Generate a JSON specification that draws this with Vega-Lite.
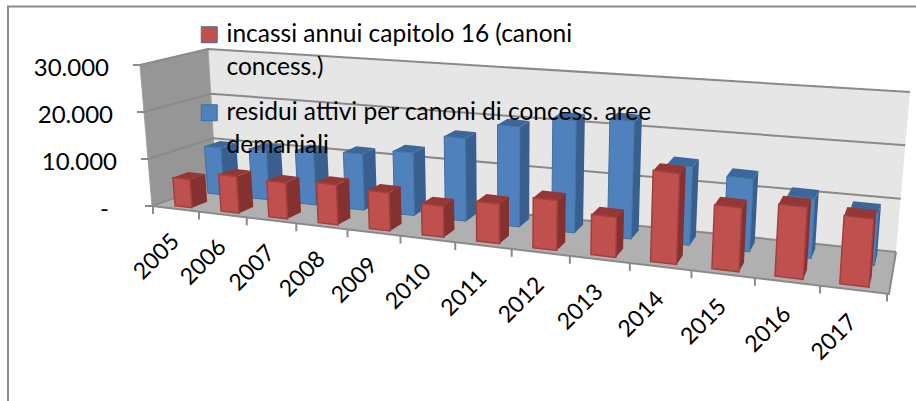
{
"$schema":"https://vega.github.io/schema/vega-lite/v6.json",
"width":916,"height":401,"padding":0,"autosize":{"type":"none"},
"background":"white",
"view":{"stroke":null},
"config":{"style":{"guide-label":{"lineHeight":33}}},
"datasets":{
"bars":[
{"year":2005,"series":"incassi annui capitolo 16 (canoni concess.)","value":6000},
{"year":2006,"series":"incassi annui capitolo 16 (canoni concess.)","value":7700},
{"year":2007,"series":"incassi annui capitolo 16 (canoni concess.)","value":7400},
{"year":2008,"series":"incassi annui capitolo 16 (canoni concess.)","value":8100},
{"year":2009,"series":"incassi annui capitolo 16 (canoni concess.)","value":7600},
{"year":2010,"series":"incassi annui capitolo 16 (canoni concess.)","value":6100},
{"year":2011,"series":"incassi annui capitolo 16 (canoni concess.)","value":7700},
{"year":2012,"series":"incassi annui capitolo 16 (canoni concess.)","value":9500},
{"year":2013,"series":"incassi annui capitolo 16 (canoni concess.)","value":7500},
{"year":2014,"series":"incassi annui capitolo 16 (canoni concess.)","value":16800},
{"year":2015,"series":"incassi annui capitolo 16 (canoni concess.)","value":11600},
{"year":2016,"series":"incassi annui capitolo 16 (canoni concess.)","value":12900},
{"year":2017,"series":"incassi annui capitolo 16 (canoni concess.)","value":12000},
{"year":2005,"series":"residui attivi per canoni di concess. aree demaniali","value":10300},
{"year":2006,"series":"residui attivi per canoni di concess. aree demaniali","value":10700},
{"year":2007,"series":"residui attivi per canoni di concess. aree demaniali","value":11200},
{"year":2008,"series":"residui attivi per canoni di concess. aree demaniali","value":11700},
{"year":2009,"series":"residui attivi per canoni di concess. aree demaniali","value":12900},
{"year":2010,"series":"residui attivi per canoni di concess. aree demaniali","value":16800},
{"year":2011,"series":"residui attivi per canoni di concess. aree demaniali","value":20000},
{"year":2012,"series":"residui attivi per canoni di concess. aree demaniali","value":22200},
{"year":2013,"series":"residui attivi per canoni di concess. aree demaniali","value":22900},
{"year":2014,"series":"residui attivi per canoni di concess. aree demaniali","value":15100},
{"year":2015,"series":"residui attivi per canoni di concess. aree demaniali","value":13800},
{"year":2016,"series":"residui attivi per canoni di concess. aree demaniali","value":11200},
{"year":2017,"series":"residui attivi per canoni di concess. aree demaniali","value":9600}
],
"walls":[{"part":"frame"}],
"grid":[{"tick":0,"label":"-"},{"tick":10,"label":"10.000"},{"tick":20,"label":"20.000"},{"tick":30,"label":"30.000"}],
"years":[{"i":0,"label":"2005"},{"i":1,"label":"2006"},{"i":2,"label":"2007"},{"i":3,"label":"2008"},{"i":4,"label":"2009"},{"i":5,"label":"2010"},{"i":6,"label":"2011"},{"i":7,"label":"2012"},{"i":8,"label":"2013"},{"i":9,"label":"2014"},{"i":10,"label":"2015"},{"i":11,"label":"2016"},{"i":12,"label":"2017"},{"i":13,"label":""}]
},
"layer":[
{"data":{"name":"walls"},
 "transform":[{"calculate":"{type:'Polygon',coordinates:[[[208,49],[910,92],[896,252],[216,183],[208,49]]]}","as":"g"}],
 "mark":{"type":"geoshape","fill":"#e6e6e6","stroke":null},
 "projection":{"type":"identity","scale":1,"translate":[0,0]},
 "encoding":{"shape":{"field":"g","type":"geojson"}}},
{"data":{"name":"walls"},
 "transform":[{"calculate":"{type:'Polygon',coordinates:[[[140,65],[208,49],[216,183],[152,206],[140,65]]]}","as":"g"}],
 "mark":{"type":"geoshape","fill":"#969696","stroke":"#a0a0a0","strokeWidth":1},
 "projection":{"type":"identity","scale":1,"translate":[0,0]},
 "encoding":{"shape":{"field":"g","type":"geojson"}}},
{"data":{"name":"walls"},
 "transform":[{"calculate":"{type:'Polygon',coordinates:[[[152,206],[216,183],[896,252],[889,294],[152,206]]]}","as":"g"}],
 "mark":{"type":"geoshape","fill":"#b0b0b0","stroke":null},
 "projection":{"type":"identity","scale":1,"translate":[0,0]},
 "encoding":{"shape":{"field":"g","type":"geojson"}}},
{"data":{"name":"walls"},
 "transform":[{"calculate":"{type:'LineString',coordinates:[[8,401],[8,6.5],[916,6.5]]}","as":"g"}],
 "mark":{"type":"geoshape","filled":false,"stroke":"#8c8c8c","strokeWidth":2},
 "projection":{"type":"identity","scale":1,"translate":[0,0]},
 "encoding":{"shape":{"field":"g","type":"geojson"}}},
{"data":{"name":"walls"},
 "transform":[{"calculate":"{type:'LineString',coordinates:[[152,206],[889,294],[896,252]]}","as":"g"}],
 "mark":{"type":"geoshape","filled":false,"stroke":"#8a8a8a","strokeWidth":2},
 "projection":{"type":"identity","scale":1,"translate":[0,0]},
 "encoding":{"shape":{"field":"g","type":"geojson"}}},
{"data":{"name":"grid"},
 "transform":[
  {"calculate":"216-datum.tick*8/30","as":"lx"},{"calculate":"183-datum.tick*134/30","as":"ly"},
  {"calculate":"896+datum.tick*14/30","as":"rx"},{"calculate":"252-datum.tick*160/30","as":"ry"},
  {"calculate":"152-datum.tick*12/30","as":"fx"},{"calculate":"206-datum.tick*141/30","as":"fy"},
  {"calculate":"{type:'LineString',coordinates:[[datum.fx-7,datum.fy],[datum.fx,datum.fy],[datum.lx,datum.ly],[datum.rx,datum.ry]]}","as":"g"}],
 "mark":{"type":"geoshape","filled":false,"stroke":"#8a8a8a","strokeWidth":2},
 "projection":{"type":"identity","scale":1,"translate":[0,0]},
 "encoding":{"shape":{"field":"g","type":"geojson"}}},
{"data":{"name":"years"},
 "transform":[
  {"calculate":"153+45.15*datum.i+0.87*datum.i*datum.i","as":"tx"},
  {"calculate":"206+0.119*(datum.tx-152)","as":"ty"},
  {"calculate":"{type:'LineString',coordinates:[[datum.tx,datum.ty],[datum.tx,datum.ty+8]]}","as":"g"}],
 "mark":{"type":"geoshape","filled":false,"stroke":"#8a8a8a","strokeWidth":2},
 "projection":{"type":"identity","scale":1,"translate":[0,0]},
 "encoding":{"shape":{"field":"g","type":"geojson"}}},
{"data":{"name":"bars"},
 "transform":[
  {"calculate":"datum.year-2005","as":"i"},
  {"calculate":"indexof(datum.series,'residui')===0?0.63:0.1","as":"d0"},
  {"calculate":"datum.d0+0.25","as":"d1"},
  {"calculate":"datum.value/1000","as":"v"},
  {"calculate":"datum.i+0.35-0.006*datum.i","as":"ua"},
  {"calculate":"datum.i+0.72","as":"ub"},
  {"calculate":"153+45.15*datum.ua+0.87*datum.ua*datum.ua","as":"Fa"},
  {"calculate":"153+45.15*datum.ub+0.87*datum.ub*datum.ub","as":"Fb"},
  {"calculate":"216+41.9*datum.ua+0.8*datum.ua*datum.ua","as":"Ba"},
  {"calculate":"216+41.9*datum.ub+0.8*datum.ub*datum.ub","as":"Bb"},
  {"calculate":"206+0.119*(datum.Fa-152)","as":"yFa"},
  {"calculate":"206+0.119*(datum.Fb-152)","as":"yFb"},
  {"calculate":"183+0.1015*(datum.Ba-216)","as":"yBa"},
  {"calculate":"183+0.1015*(datum.Bb-216)","as":"yBb"},
  {"calculate":"datum.Fa+(datum.Ba-datum.Fa)*datum.d0","as":"ax0"},
  {"calculate":"datum.Fa+(datum.Ba-datum.Fa)*datum.d1","as":"ax1"},
  {"calculate":"datum.Fb+(datum.Bb-datum.Fb)*datum.d0","as":"bx0"},
  {"calculate":"datum.Fb+(datum.Bb-datum.Fb)*datum.d1","as":"bx1"},
  {"calculate":"datum.yFa+(datum.yBa-datum.yFa)*datum.d0","as":"ay0"},
  {"calculate":"datum.yFa+(datum.yBa-datum.yFa)*datum.d1","as":"ay1"},
  {"calculate":"datum.yFb+(datum.yBb-datum.yFb)*datum.d0","as":"by0"},
  {"calculate":"datum.yFb+(datum.yBb-datum.yFb)*datum.d1","as":"by1"},
  {"calculate":"((4.7+1.1*datum.i/13)*(1-datum.d0)+(4.47+0.86*datum.i/13)*datum.d0)*datum.v","as":"h0"},
  {"calculate":"((4.7+1.1*datum.i/13)*(1-datum.d1)+(4.47+0.86*datum.i/13)*datum.d1)*datum.v","as":"h1"},
  {"calculate":"datum.ax0+(datum.ax0-510)*0.0011*datum.v","as":"tax0"},
  {"calculate":"datum.ax1+(datum.ax1-510)*0.0011*datum.v","as":"tax1"},
  {"calculate":"datum.bx0+(datum.bx0-510)*0.0011*datum.v","as":"tbx0"},
  {"calculate":"datum.bx1+(datum.bx1-510)*0.0011*datum.v","as":"tbx1"},
  {"calculate":"{type:'Polygon',coordinates:[[[datum.ax0,datum.ay0],[datum.bx0,datum.by0],[datum.tbx0,datum.by0-datum.h0],[datum.tax0,datum.ay0-datum.h0],[datum.ax0,datum.ay0]]]}","as":"front"},
  {"calculate":"{type:'Polygon',coordinates:[[[datum.bx0,datum.by0],[datum.bx1,datum.by1],[datum.tbx1,datum.by1-datum.h1],[datum.tbx0,datum.by0-datum.h0],[datum.bx0,datum.by0]]]}","as":"side"},
  {"calculate":"{type:'Polygon',coordinates:[[[datum.tax0,datum.ay0-datum.h0],[datum.tbx0,datum.by0-datum.h0],[datum.tbx1,datum.by1-datum.h1],[datum.tax1,datum.ay1-datum.h1],[datum.tax0,datum.ay0-datum.h0]]]}","as":"topface"}
 ],
 "layer":[
  {"transform":[{"filter":"datum.d0>0.5"}],"mark":{"type":"geoshape","fill":"#385f8e","stroke":null},
   "projection":{"type":"identity","scale":1,"translate":[0,0]},
   "encoding":{"shape":{"field":"side","type":"geojson"}}},
  {"transform":[{"filter":"datum.d0>0.5"}],"mark":{"type":"geoshape","fill":"#3b679b","stroke":null},
   "projection":{"type":"identity","scale":1,"translate":[0,0]},
   "encoding":{"shape":{"field":"topface","type":"geojson"}}},
  {"transform":[{"filter":"datum.d0>0.5"}],"mark":{"type":"geoshape","stroke":"#41719c","strokeWidth":1},
   "projection":{"type":"identity","scale":1,"translate":[0,0]},
   "encoding":{"shape":{"field":"front","type":"geojson"},
    "color":{"field":"series","type":"nominal","scale":{"domain":["incassi annui capitolo 16 (canoni concess.)","residui attivi per canoni di concess. aree demaniali"],"range":["#c0504d","#4f81bd"]},
     "legend":{"orient":"none","legendX":197,"legendY":22.5,"title":null,"symbolType":"square","symbolSize":256,"symbolStrokeWidth":1,"labelFont":"Lato","labelFontSize":24.5,"labelColor":"black","labelLimit":500,"labelOffset":5,"rowPadding":20,
      "labelExpr":"indexof(datum.label,'incassi')===0?['incassi annui capitolo 16 (canoni','concess.)']:['residui attivi per canoni di concess. aree','demaniali']"}}}},
  {"transform":[{"filter":"datum.d0<0.5"}],"mark":{"type":"geoshape","fill":"#843230","stroke":null},
   "projection":{"type":"identity","scale":1,"translate":[0,0]},
   "encoding":{"shape":{"field":"side","type":"geojson"}}},
  {"transform":[{"filter":"datum.d0<0.5"}],"mark":{"type":"geoshape","fill":"#953735","stroke":null},
   "projection":{"type":"identity","scale":1,"translate":[0,0]},
   "encoding":{"shape":{"field":"topface","type":"geojson"}}},
  {"transform":[{"filter":"datum.d0<0.5"}],"mark":{"type":"geoshape","stroke":"#a23f3d","strokeWidth":1.5},
   "projection":{"type":"identity","scale":1,"translate":[0,0]},
   "encoding":{"shape":{"field":"front","type":"geojson"},
    "color":{"field":"series","type":"nominal"}}}
 ]},
{"data":{"name":"grid"},
 "transform":[
  {"calculate":"125-datum.tick*0.4-(datum.tick===0?16:4)","as":"lx"},
  {"calculate":"210-datum.tick*4.7","as":"ly"}],
 "mark":{"type":"text","font":"Lato","fontSize":24,"align":"right","baseline":"middle","color":"black"},
 "encoding":{
  "x":{"field":"lx","type":"quantitative","scale":{"domain":[0,916],"range":[0,916]},"axis":null},
  "y":{"field":"ly","type":"quantitative","scale":{"domain":[0,401],"range":[0,401]},"axis":null},
  "text":{"field":"label"}}},
{"data":{"name":"years"},
 "transform":[{"filter":"datum.i<13"},
  {"calculate":"datum.i+0.5","as":"m"},
  {"calculate":"153+45.15*datum.m+0.87*datum.m*datum.m","as":"mx"},
  {"calculate":"datum.mx-19","as":"lx"},
  {"calculate":"206+0.119*(datum.mx-152)+48","as":"ly"}],
 "mark":{"type":"text","font":"Lato","fontSize":23,"angle":-45,"align":"center","baseline":"middle","color":"black"},
 "encoding":{
  "x":{"field":"lx","type":"quantitative","scale":{"domain":[0,916],"range":[0,916]},"axis":null},
  "y":{"field":"ly","type":"quantitative","scale":{"domain":[0,401],"range":[0,401]},"axis":null},
  "text":{"field":"label"}}}
]
}
